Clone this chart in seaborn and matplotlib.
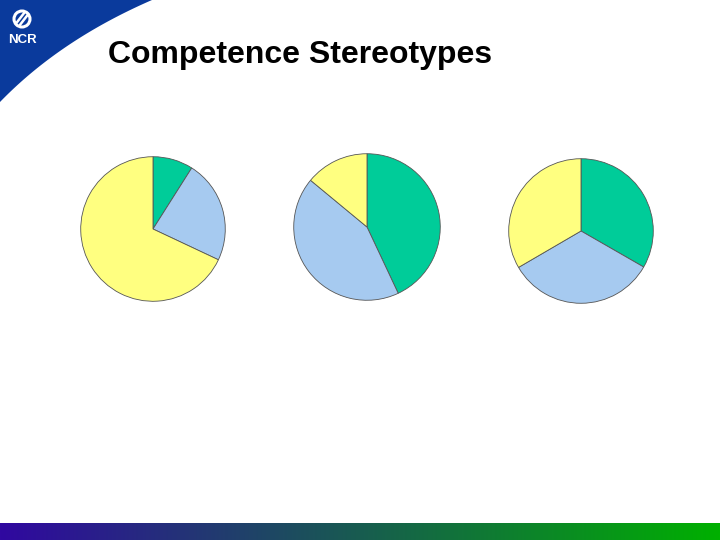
import numpy as np
import matplotlib
matplotlib.use("Agg")
import matplotlib.pyplot as plt
import seaborn as sns
from matplotlib.patches import Polygon, Circle

sns.set_theme(style="white")
plt.rcParams['font.family'] = ['Liberation Sans', 'DejaVu Sans']

title = "Competence Stereotypes"
categories = ["Green", "Blue", "Yellow"]
pie1_values = [9, 23, 68]
pie2_values = [43, 43, 14]
pie3_values = [33.3, 33.3, 33.4]
pie_colors = ["#00CC99", "#A6CAF0", "#FFFF80"]

W, H = 720, 540
fig = plt.figure(figsize=(7.2, 5.4), dpi=100)
fig.patch.set_facecolor("white")

# decoration layer in pixel coordinates
bg = fig.add_axes([0, 0, 1, 1])
bg.set_xlim(0, W)
bg.set_ylim(H, 0)
bg.axis("off")

# blue corner swoosh
t = np.linspace(0, 1, 100)
p0, p1, p2 = np.array([0, 102]), np.array([60, 40]), np.array([152, 0])
curve = ((1 - t)[:, None] ** 2) * p0 + (2 * (1 - t) * t)[:, None] * p1 + (t[:, None] ** 2) * p2
poly = np.vstack([[0, 0], curve])
bg.add_patch(Polygon(poly, closed=True, facecolor="#0A3A9C", edgecolor="none"))

# NCR logo
bg.add_patch(Circle((22, 19), 8, facecolor="none", edgecolor="white", lw=2.2))
bg.plot([16, 24.5], [23.5, 12.5], color="white", lw=1.8, solid_capstyle="round")
bg.plot([19.5, 28], [25.5, 14.5], color="white", lw=1.8, solid_capstyle="round")
bg.text(22.5, 40, "NCR", color="white", fontsize=9.5, fontweight="bold", ha="center", va="center")

# bottom gradient bar
grad = np.linspace(0, 1, 256)
c0 = np.array([0x30, 0x08, 0xA0]) / 255
c1 = np.array([0x00, 0xB0, 0x00]) / 255
img = (1 - grad)[:, None] * c0 + grad[:, None] * c1
bg.imshow(img[None, :, :], extent=[0, W, 540, 523], aspect="auto", zorder=1)

# title
bg.text(108, 55, title, fontsize=23, fontweight="bold", color="black", ha="left", va="center")

def draw_pie(cx, cy, r, values):
    ax = fig.add_axes([(cx - r) / W, (H - cy - r) / H, 2 * r / W, 2 * r / H])
    ax.pie(values, colors=pie_colors, startangle=90, counterclock=False, radius=1,
           wedgeprops=dict(edgecolor="#555555", linewidth=0.6))
    ax.set_xlim(-1.01, 1.01)
    ax.set_ylim(-1.01, 1.01)
    ax.set_aspect("equal")
    ax.axis("off")

draw_pie(153, 229, 73, pie1_values)
draw_pie(367, 227, 74, pie2_values)
draw_pie(581, 231, 73, pie3_values)

bg.set_xlim(0, W)
bg.set_ylim(H, 0)
fig.savefig("out.png", dpi=100)
